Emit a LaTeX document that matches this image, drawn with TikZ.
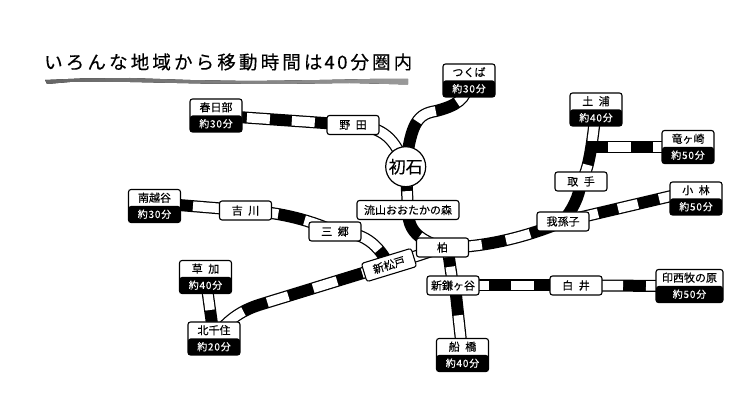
\documentclass[tikz,border=0pt]{standalone}
\usepackage{fontspec}
\setmainfont{Noto Sans CJK JP}
\newfontfamily\stfont[FakeBold=0.25]{Noto Sans CJK JP}
\newfontfamily\timefont[LetterSpace=8,FakeBold=0.25]{Noto Sans CJK JP}
\newfontfamily\titlefont[LetterSpace=17,FakeBold=0.4]{Noto Sans CJK JP}
\pgfdeclarelayer{bg}
\pgfsetlayers{bg,main}
\newcommand{\widetxt}[1]{\spaceskip=.5em\relax #1}
\tikzset{
  trk/.style={preaction={draw=black,line width=12pt,solid},draw=white,line width=9.5pt,dash pattern=#1},
  trkw/.style={preaction={draw=black,line width=12pt,solid},draw=white,line width=9.5pt},
  trkb/.style={draw=black,line width=12pt},
  stbox/.style={draw=black,line width=1.1pt,rounded corners=2.5pt,fill=white,minimum width=52pt,minimum height=19pt,inner sep=0pt,font=\stfont\fontsize{11pt}{13pt}\selectfont},
  boxo/.style={draw=black,line width=1.1pt,rounded corners=2.5pt,fill=white,minimum height=33pt,inner sep=0pt,
    path picture={\fill[black] (path picture bounding box.west) rectangle (path picture bounding box.south east);}},
  toptxt/.style={inner sep=0pt,font=\stfont\fontsize{11pt}{13pt}\selectfont},
  timetxt/.style={inner sep=0pt,text=white,font=\timefont\fontsize{10pt}{12pt}\selectfont},
  hub/.style={circle,draw=black,line width=1.2pt,fill=white,minimum size=40pt,inner sep=0pt,font=\stfont\fontsize{17pt}{19pt}\selectfont}
}
\newcommand{\twobox}[6]{%
  \node[boxo,minimum width=#4pt] (#1) at (#2,#3) {};
  \node[toptxt] (#1-t) at ([yshift=8.3pt]#1.center) {\widetxt{#5}};
  \node[timetxt] (#1-b) at ([yshift=-8.2pt]#1.center) {#6};
}
\begin{document}
\begin{tikzpicture}[x=1pt,y=-1pt]
\useasboundingbox (0,0) rectangle (750,419);
% title
\node[inner sep=0pt,anchor=west,font=\titlefont\fontsize{18.5pt}{20pt}\selectfont] (title) at (44,62) {いろんな地域から移動時間は\kern2pt 4\kern2.5pt 0\kern3pt 分圏内};
\fill[left color=black!60,right color=black!40] (45,80) -- (80,78.5) -- (130,78) -- (190,80) -- (250,81) -- (320,80) -- (370,79) -- (408,79) -- (408,84.5) -- (350,83) -- (280,84) -- (200,83.5) -- (130,82) -- (70,82) -- (47,84) -- cycle;
% nodes
\twobox{kasukabe}{216}{115.5}{52}{春日部}{約30分}
\node[stbox] (noda) at (353,125) {\widetxt{野 田}};
\node[hub] (hatsu) at (405.7,166.7) {初石};
\twobox{tsukuba}{469}{80.5}{52}{つくば}{約30分}
\twobox{tsuchiura}{596}{109.5}{52}{土 浦}{約40分}
\twobox{ryugasaki}{688}{147}{52}{竜ヶ崎}{約50分}
\node[stbox] (toride) at (581,181.5) {\widetxt{取 手}};
\twobox{kobayashi}{696}{198.5}{52}{小 林}{約50分}
\node[stbox] (abiko) at (563,221.5) {我孫子};
\twobox{minami}{154.5}{206}{52}{南越谷}{約30分}
\node[stbox] (yoshikawa) at (245.5,210.5) {\widetxt{吉 川}};
\node[stbox] (misato) at (335,231.5) {\widetxt{三 郷}};
\node[stbox,minimum width=102pt] (otaka) at (408,210) {流山おおたかの森};
\node[stbox] (kashiwa) at (442.5,247.5) {柏};
\node[stbox,rotate=17] (shinmatsudo) at (389,265) {新松戸};
\twobox{soka}{205.5}{277}{52}{草 加}{約40分}
\twobox{kitasenju}{214}{338.5}{52}{北千住}{約20分}
\node[stbox] (kamagaya) at (453,285.5) {新鎌ヶ谷};
\node[stbox] (shiroi) at (576,285.5) {\widetxt{白 井}};
\twobox{inzai}{689.5}{286}{67}{印西牧の原}{約50分}
\twobox{funabashi}{462.5}{355}{52}{船 橋}{約40分}
\coordinate (rbranch) at (588,147);
\coordinate (mbend) at (262,304);
% tracks
\begin{pgfonlayer}{bg}
\draw[trk={on 20pt off 11pt on 23pt off 22pt on 23pt off 100pt}] (kasukabe.center) -- (noda.center);
\draw[trkw] (noda.center) .. controls (385,127) and (395,140) .. (hatsu.center);
\draw[trk={on 26pt off 23pt on 22pt off 200pt}] (tsukuba.center) .. controls (467,100) and (455,106) .. (436,111) .. controls (418,114) and (411,122) .. (hatsu.center);
\draw[trk={on 20pt off 4.5pt on 100pt}] (hatsu.center) -- (otaka.center);
\draw[trk={on 5pt off 25pt on 100pt}] (otaka.center) .. controls (408,232) and (420,240) .. (kashiwa.center);
\draw[trk={on 39.5pt off 24.5pt on 25pt off 100pt}] (kashiwa.center) .. controls (480,248) and (525,238) .. (abiko.center);
\draw[trk={on 36pt off 20.5pt on 20.5pt off 21.7pt on 100pt}] (abiko.center) -- (kobayashi-t.center);
\draw[trkb] (abiko.center) .. controls (572,210) and (579,198) .. (toride.center);
\draw[trk={on 18pt off 24pt on 100pt}] (toride.center) .. controls (589,170) and (592,145) .. (tsuchiura.center);
\draw[trk={on 0pt off 20pt on 23pt off 22pt on 100pt}] (rbranch) -- (ryugasaki.center);
\draw[trk={on 20pt off 18.6pt on 100pt}] ([yshift=3pt]minami.center) -- (yoshikawa.center);
\draw[trk={on 33pt off 27pt on 100pt}] (yoshikawa.center) .. controls (275,212) and (305,218) .. (misato.center);
\draw[trk={on 49pt off 100pt}] (misato.center) .. controls (365,232) and (378,245) .. (shinmatsudo.center);
\draw[trkw] (shinmatsudo.center) -- (kashiwa.center);
\draw[trk={on 28pt off 26.3pt on 25pt off 26pt on 22pt off 25.6pt on 100pt}] (shinmatsudo.center) -- (mbend) .. controls (245,309) and (228,318) .. (kitasenju.center);
\draw[trk={on 33.3pt off 100pt}] (soka.center) -- (kitasenju.center);
\draw[trk={on 9.5pt off 10pt on 100pt}] ([xshift=5pt]kashiwa.center) -- (kamagaya.center);
\draw[trk={on 5pt off 25pt on 100pt}] ([xshift=2pt]kamagaya.center) -- (funabashi.center);
\draw[trk={on 36pt off 22pt on 23pt off 100pt}] (kamagaya.center) -- (shiroi.center);
\draw[trk={on 47pt off 23pt on 100pt}] (shiroi.center) -- (inzai.center);
\end{pgfonlayer}
\end{tikzpicture}
\end{document}
